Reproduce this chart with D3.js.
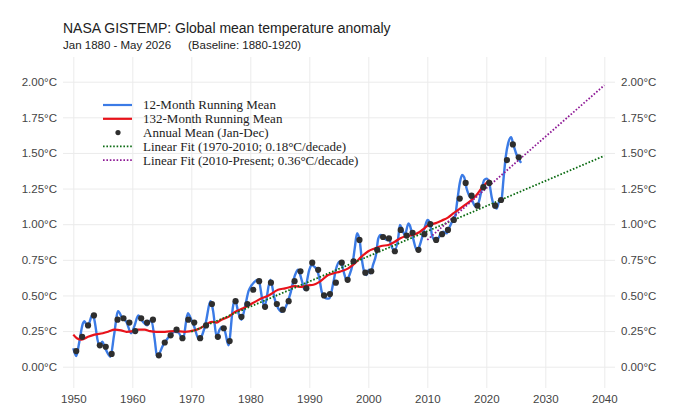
<!DOCTYPE html>
<html>
<head>
<meta charset="utf-8">
<script src="https://cdn.jsdelivr.net/npm/d3@7"></script>
<style>
  body { margin: 0; background: #fff; }
  svg text { font-family: "Liberation Sans", Arial, sans-serif; }
</style>
</head>
<body>
<svg id="chart" width="680" height="420"></svg>
<script>
// 12-month running mean (year / °C)
const runYears12 = [1950.0, 1950.5, 1951.0, 1951.6, 1951.9, 1952.4, 1953.3, 1953.7, 1954.1, 1954.5,
  1954.9, 1955.4, 1956.3, 1956.9, 1957.6, 1958.3, 1959.0, 1959.8, 1960.4, 1961.0,
  1961.8, 1962.5, 1963.2, 1963.8, 1964.2, 1965.2, 1966.0, 1967.2, 1967.8, 1968.6,
  1969.4, 1970.0, 1970.5, 1971.3, 1972.3, 1973.3, 1973.7, 1974.3, 1974.8, 1975.25,
  1975.7, 1976.3, 1977.1, 1977.4, 1978.0, 1978.5, 1979.1, 1979.7, 1980.2, 1981.4,
  1982.0, 1982.4, 1983.4, 1984.1, 1984.5, 1985.4, 1985.9, 1986.7, 1987.6, 1988.1,
  1988.7, 1989.2, 1990.0, 1990.4, 1990.9, 1991.3, 1991.7, 1992.1, 1992.5, 1993.0,
  1993.4, 1994.05, 1994.5, 1995.1, 1995.5, 1995.9, 1996.3, 1996.8, 1997.3, 1997.7,
  1998.1, 1998.6, 1998.85, 1999.4, 1999.7, 2000.1, 2000.4, 2000.8, 2001.3, 2001.7,
  2002.1, 2002.5, 2003.1, 2003.5, 2004.1, 2004.5, 2005.1, 2005.35, 2005.7, 2006.2,
  2006.8, 2007.0, 2007.6, 2008.2, 2008.5, 2009.0, 2009.6, 2010.05, 2010.45, 2010.85,
  2011.3, 2011.85, 2012.3, 2012.7, 2013.3, 2013.8, 2014.2, 2014.7, 2015.1, 2015.5,
  2015.9, 2016.25, 2016.65, 2017.05, 2017.5, 2017.95, 2018.35, 2018.75, 2019.2, 2019.65,
  2020.05, 2020.45, 2020.9, 2021.35, 2021.75, 2022.15, 2022.6, 2022.9, 2023.3, 2023.7,
  2024.2, 2024.6, 2025.15, 2025.9];
const runVals12 = [0.13, 0.075, 0.17, 0.30, 0.32, 0.28, 0.37, 0.30, 0.19, 0.14,
  0.175, 0.13, 0.07, 0.22, 0.39, 0.34, 0.315, 0.235, 0.29, 0.36,
  0.315, 0.29, 0.33, 0.19, 0.07, 0.15, 0.20, 0.245, 0.24, 0.19,
  0.375, 0.33, 0.28, 0.19, 0.28, 0.46, 0.39, 0.21, 0.26, 0.28,
  0.25, 0.15, 0.43, 0.47, 0.375, 0.33, 0.42, 0.53, 0.57, 0.61,
  0.48, 0.42, 0.61, 0.48, 0.43, 0.385, 0.41, 0.50, 0.645, 0.68,
  0.61, 0.54, 0.68, 0.714, 0.70, 0.68, 0.62, 0.527, 0.49, 0.478,
  0.48, 0.585, 0.68, 0.737, 0.72, 0.655, 0.61, 0.643, 0.714, 0.83,
  0.936, 0.866, 0.772, 0.655, 0.643, 0.68, 0.655, 0.714, 0.784, 0.90,
  0.924, 0.913, 0.889, 0.894, 0.83, 0.82, 0.913, 0.995, 0.97, 0.924,
  1.006, 0.995, 0.90, 0.82, 0.83, 0.89, 0.983, 1.03, 1.006, 0.913,
  0.889, 0.90, 0.936, 0.948, 0.936, 0.983, 1.018, 1.053, 1.17, 1.287,
  1.345, 1.33, 1.252, 1.205, 1.18, 1.135, 1.123, 1.158, 1.24, 1.31,
  1.32, 1.30, 1.193, 1.123, 1.11, 1.158, 1.18, 1.31, 1.474, 1.567,
  1.61, 1.556, 1.486, 1.43];

// 132-month running mean
const runYears132 = [1950.0, 1950.6, 1951.4, 1952.5, 1953.6, 1955.0, 1955.9, 1957.0, 1958.1, 1959.0,
  1960.1, 1961.0, 1962.1, 1963.0, 1964.1, 1965.5, 1967.2, 1968.9, 1970.5, 1971.5,
  1972.3, 1973.5, 1974.3, 1975.1, 1976.3, 1977.4, 1978.8, 1979.7, 1980.8, 1981.9,
  1983.1, 1984.7, 1985.9, 1987.6, 1988.7, 1989.7, 1990.7, 1991.8, 1993.2, 1994.05,
  1995.2, 1996.6, 1997.7, 1998.85, 2000.0, 2001.1, 2002.2, 2003.4, 2004.5, 2005.35,
  2006.5, 2007.6, 2008.7, 2009.6, 2010.2, 2011.3, 2012.4, 2013.55, 2014.4, 2015.25,
  2016.4, 2017.5, 2018.35, 2019.2, 2020.05, 2020.6];
const runVals132 = [0.225, 0.20, 0.19, 0.21, 0.225, 0.235, 0.245, 0.26, 0.255, 0.245,
  0.25, 0.26, 0.26, 0.25, 0.245, 0.245, 0.25, 0.245, 0.255, 0.27,
  0.29, 0.315, 0.31, 0.33, 0.35, 0.385, 0.41, 0.43, 0.455, 0.48,
  0.50, 0.54, 0.55, 0.565, 0.56, 0.57, 0.575, 0.597, 0.643, 0.655,
  0.667, 0.69, 0.725, 0.772, 0.81, 0.83, 0.847, 0.854, 0.877, 0.90,
  0.917, 0.924, 0.945, 0.975, 0.994, 1.006, 1.025, 1.048, 1.076, 1.10,
  1.135, 1.17, 1.205, 1.252, 1.291, 1.31];

// Annual means (Jan-Dec), 1950-2025
const annualYears = d3.range(1950, 2026);
const annualVals = [0.11, 0.21, 0.29, 0.36, 0.15, 0.14, 0.09, 0.33, 0.34, 0.31,
  0.25, 0.34, 0.31, 0.33, 0.08, 0.17, 0.22, 0.26, 0.20, 0.33,
  0.31, 0.20, 0.29, 0.44, 0.21, 0.27, 0.18, 0.46, 0.35, 0.44,
  0.54, 0.60, 0.42, 0.59, 0.44, 0.40, 0.46, 0.60, 0.67, 0.55,
  0.73, 0.68, 0.50, 0.51, 0.59, 0.73, 0.61, 0.74, 0.89, 0.66,
  0.67, 0.82, 0.91, 0.90, 0.81, 0.96, 0.92, 0.94, 0.82, 0.93,
  1.00, 0.89, 0.93, 0.96, 1.03, 1.18, 1.29, 1.20, 1.13, 1.26,
  1.29, 1.13, 1.17, 1.45, 1.56, 1.47];

// Linear fits, end points
const fitOldYears = [1970, 2040];
const fitOldVals = [0.245, 1.48];
const fitNewYears = [2010, 2040];
const fitNewVals = [0.89, 1.975];

const xTicks = [1950, 1960, 1970, 1980, 1990, 2000, 2010, 2020, 2030, 2040];
const yTicks = [0, 0.25, 0.5, 0.75, 1.0, 1.25, 1.5, 1.75, 2.0];

const legendLabels = [
  "12-Month Running Mean",
  "132-Month Running Mean",
  "Annual Mean (Jan-Dec)",
  "Linear Fit (1970-2010; 0.18°C/decade)",
  "Linear Fit (2010-Present; 0.36°C/decade)"
];

const panel = { left: 63, right: 615, top: 57, bottom: 388 };
const blue = "#3b7be6", red = "#e8121a", green = "#0b6b12", purple = "#8e1a96";

const svg = d3.select("#chart");

const x = d3.scaleLinear().domain([1950, 2040]).range([73.3, 604.3]);
const y = d3.scaleLinear().domain([0, 2]).range([366.7, 81.7]);

// grid + tick labels
const fmt = d => d3.format(".2f")(d) + "°C";

const xAxis = svg.append("g")
  .attr("transform", `translate(0,${panel.bottom})`)
  .call(d3.axisBottom(x).tickValues(xTicks).tickFormat(d3.format("d"))
    .tickSize(-(panel.bottom - panel.top)).tickPadding(7));

const yAxis = svg.append("g")
  .attr("transform", `translate(${panel.left},0)`)
  .call(d3.axisLeft(y).tickValues(yTicks).tickFormat(fmt)
    .tickSize(-(panel.right - panel.left)).tickPadding(6));

const yAxisR = svg.append("g")
  .attr("transform", `translate(${panel.right},0)`)
  .call(d3.axisRight(y).tickValues(yTicks).tickFormat(fmt)
    .tickSize(0).tickPadding(6));

[xAxis, yAxis, yAxisR].forEach(g => {
  g.select(".domain").remove();
  g.selectAll(".tick line").attr("stroke", "#ebebeb").attr("stroke-width", 1);
  g.selectAll(".tick text")
    .attr("fill", "#444")
    .style("font-size", "11.5px")
    .style("font-family", '"Liberation Sans", Arial, sans-serif');
});

// series
const line = d3.line().x(d => x(d[0])).y(d => y(d[1]));

svg.append("path")
  .datum(d3.zip(runYears12, runVals12))
  .attr("fill", "none")
  .attr("stroke", blue)
  .attr("stroke-width", 2.4)
  .attr("stroke-linejoin", "round")
  .attr("d", line.curve(d3.curveMonotoneX));

svg.append("path")
  .datum(d3.zip(runYears132, runVals132))
  .attr("fill", "none")
  .attr("stroke", red)
  .attr("stroke-width", 2.2)
  .attr("d", line.curve(d3.curveMonotoneX));

const straight = d3.line().x(d => x(d[0])).y(d => y(d[1]));

svg.append("path")
  .datum(d3.zip(fitOldYears, fitOldVals))
  .attr("fill", "none")
  .attr("stroke", green)
  .attr("stroke-width", 1.8)
  .attr("stroke-dasharray", "1.6,1.8")
  .attr("d", straight);

svg.append("path")
  .datum(d3.zip(fitNewYears, fitNewVals))
  .attr("fill", "none")
  .attr("stroke", purple)
  .attr("stroke-width", 1.8)
  .attr("stroke-dasharray", "1.6,1.8")
  .attr("d", straight);

svg.append("g")
  .selectAll("circle")
  .data(d3.zip(annualYears, annualVals))
  .join("circle")
  .attr("cx", d => x(d[0] + 0.5))
  .attr("cy", d => y(d[1]))
  .attr("r", 3.1)
  .attr("fill", "#2e2e2e");

// legend
const legend = svg.append("g").attr("transform", "translate(103,105)");
const rowH = 13.8;
const items = legend.selectAll("g")
  .data(legendLabels)
  .join("g")
  .attr("transform", (d, i) => `translate(0,${i * rowH})`);

items.each(function (d, i) {
  const g = d3.select(this);
  if (i === 0 || i === 1) {
    g.append("line").attr("x1", 0).attr("x2", 29).attr("y1", 0).attr("y2", 0)
      .attr("stroke", i === 0 ? blue : red).attr("stroke-width", 2.2);
  } else if (i === 2) {
    g.append("circle").attr("cx", 15).attr("cy", 0).attr("r", 2.6).attr("fill", "#2e2e2e");
  } else {
    g.append("line").attr("x1", 0).attr("x2", 29).attr("y1", 0).attr("y2", 0)
      .attr("stroke", i === 3 ? green : purple).attr("stroke-width", 1.8)
      .attr("stroke-dasharray", "1.6,1.8");
  }
  g.append("text")
    .attr("x", 40)
    .attr("y", 4.3)
    .attr("fill", "#222")
    .style("font-family", '"Liberation Serif", "Times New Roman", serif')
    .style("font-size", "13px")
    .text(d);
});

// titles
svg.append("text")
  .attr("x", 63).attr("y", 33)
  .attr("fill", "#222")
  .style("font-size", "14px")
  .text("NASA GISTEMP: Global mean temperature anomaly");

const sub = svg.append("text")
  .attr("x", 63).attr("y", 49)
  .attr("fill", "#222")
  .style("font-size", "11.5px");
sub.append("tspan").text("Jan 1880 - May 2026");
sub.append("tspan").attr("x", 188).text("(Baseline: 1880-1920)");
</script>
</body>
</html>
